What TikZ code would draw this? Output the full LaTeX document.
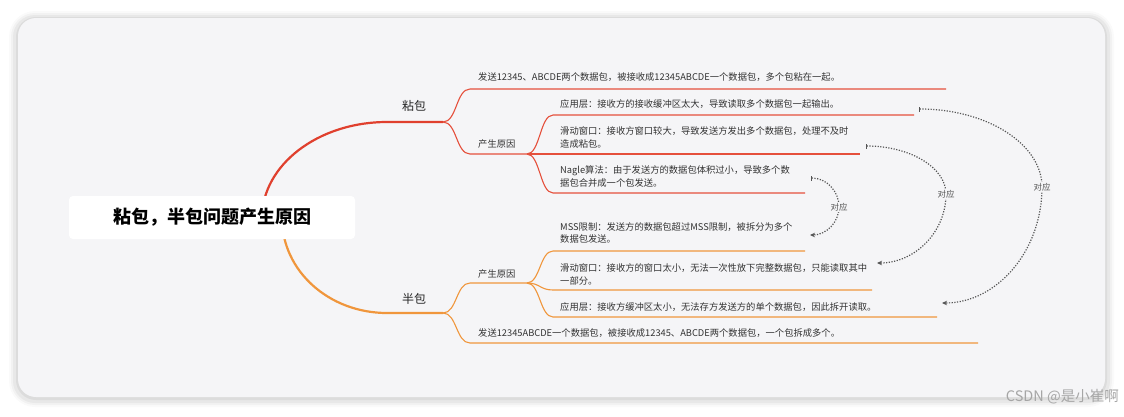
\documentclass[tikz,border=0pt]{standalone}
\usepackage{fontspec}
\setmainfont{Noto Sans CJK SC}
\usetikzlibrary{arrows.meta}
\definecolor{cardbg}{HTML}{F5F5F7}
\definecolor{stk}{HTML}{E5503C}
\definecolor{stkd}{HTML}{E0402E}
\definecolor{hlf}{HTML}{F0963C}
\definecolor{txt}{HTML}{333333}
\definecolor{dotc}{HTML}{555555}
\begin{document}
\begin{tikzpicture}[x=1pt,y=-1pt,
  leaf/.style={anchor=west,inner sep=0pt,text=txt,font=\fontsize{9.3}{12.2}\selectfont,align=left},
  topic/.style={anchor=west,inner sep=0pt,text=black!85,font=\fontsize{12}{14}\selectfont},
  redline/.style={draw=stk,line width=1.1pt},
  orgline/.style={draw=hlf,line width=1.1pt},
  corr/.style={draw=dotc,line width=1.2pt,dash pattern=on 1.2pt off 1.5pt,{Bar[width=5pt,line width=1pt]}-{Stealth[length=5pt,width=4.5pt]}},
  corrlab/.style={fill=cardbg,inner sep=1pt,text=dotc,font=\fontsize{8.5}{10}\selectfont}]
\useasboundingbox (0,0) rectangle (1124,416);
\fill[white] (0,0) rectangle (1124,416);
% shadow
\fill[black,opacity=0.02,rounded corners=26pt] (9,11) rectangle (1114,407);
\fill[black,opacity=0.03,rounded corners=24pt] (11,13) rectangle (1112,405);
\fill[black,opacity=0.04,rounded corners=22pt] (13,15) rectangle (1110,403);
\fill[black,opacity=0.05,rounded corners=20pt] (16,17) rectangle (1107,400);
% card
\fill[cardbg,rounded corners=18pt] (18,18) rectangle (1105,397);

% ---------- coordinates ----------
\coordinate (rs) at (262,218);
\coordinate (hs) at (282,218);
\coordinate (s0) at (387,122);
\coordinate (sB) at (443,122);
\coordinate (s1a) at (470,89);   \coordinate (s1b) at (946,89);
\coordinate (s2a) at (470,154);  \coordinate (s2b) at (527,154);
\coordinate (s21a) at (553,115); \coordinate (s21b) at (914,115);
\coordinate (s22b) at (860,154);
\coordinate (s23a) at (553,193); \coordinate (s23b) at (805,193);
\coordinate (h0) at (387,313);
\coordinate (hB) at (443,313);
\coordinate (h1a) at (470,283);  \coordinate (h1b) at (527,283);
\coordinate (h2a) at (470,343);  \coordinate (h2b) at (978,343);
\coordinate (h11a) at (553,251); \coordinate (h11b) at (805,251);
\coordinate (h12a) at (553,290); \coordinate (h12b) at (872,290);
\coordinate (h13a) at (553,317); \coordinate (h13b) at (937,317);

% ---------- main curves ----------
\draw[stkd,line width=2.2pt] (rs) .. controls (262,165) and (318,122) .. (s0) -- (sB);
\draw[hlf,line width=2.2pt] (hs) .. controls (282,271) and (329,313) .. (h0) -- (hB);

% ---------- sticky branches ----------
\draw[redline] (sB) .. controls (457,122) and (456,89) .. (s1a) -- (s1b);
\draw[redline] (sB) .. controls (457,122) and (456,154) .. (s2a) -- (s2b);
\draw[redline] (s2b) .. controls (540,154) and (540,115) .. (s21a) -- (s21b);
\draw[redline] (s2b) -- (s22b);
\draw[redline] (s2b) .. controls (540,154) and (540,193) .. (s23a) -- (s23b);

% ---------- half branches ----------
\draw[orgline] (hB) .. controls (457,313) and (456,283) .. (h1a) -- (h1b);
\draw[orgline] (hB) .. controls (457,313) and (456,343) .. (h2a) -- (h2b);
\draw[orgline] (h1b) .. controls (540,283) and (540,251) .. (h11a) -- (h11b);
\draw[orgline] (h1b) .. controls (540,283) and (540,290) .. (h12a) -- (h12b);
\draw[orgline] (h1b) .. controls (540,283) and (540,317) .. (h13a) -- (h13b);

% ---------- root ----------
\node[fill=white,rounded corners=4pt,minimum width=286pt,minimum height=43pt,inner sep=0pt,
      font=\fontsize{18}{20}\selectfont\bfseries,text=black] (root) at (212,217.5) {粘包，半包问题产生原因};

% ---------- texts ----------
\node[topic] (stick) at (402,106) {粘包};
\node[topic] (half) at (402,299) {半包};
\node[leaf] (t1) at (478,77) {发送12345、ABCDE两个数据包，被接收成12345ABCDE一个数据包，多个包粘在一起。};
\node[leaf] (c1) at (478,144) {产生原因};
\node[leaf] (a1) at (560,104) {应用层：接收方的接收缓冲区太大，导致读取多个数据包一起输出。};
\node[leaf] (a2) at (560,137.5) {滑动窗口：接收方窗口较大，导致发送方发出多个数据包，处理不及时\\造成粘包。};
\node[leaf] (a3) at (560,176.5) {Nagle算法：由于发送方的数据包体积过小，导致多个数\\据包合并成一个包发送。};
\node[leaf] (c2) at (478,273.5) {产生原因};
\node[leaf] (b1) at (560,233) {MSS限制：发送方的数据包超过MSS限制，被拆分为多个\\数据包发送。};
\node[leaf] (b2) at (560,274.5) {滑动窗口：接收方的窗口太小，无法一次性放下完整数据包，只能读取其中\\一部分。};
\node[leaf] (b3) at (560,307.5) {应用层：接收方缓冲区太小，无法存方发送方的单个数据包，因此拆开读取。};
\node[leaf] (t2) at (478,333) {发送12345ABCDE一个数据包，被接收成12345、ABCDE两个数据包，一个包拆成多个。};

% ---------- correspondence arrows ----------
\coordinate (p1s) at (811,178); \coordinate (p1m) at (839,207); \coordinate (p1e) at (810,235);
\coordinate (p2s) at (866,146); \coordinate (p2m) at (946,194); \coordinate (p2e) at (877,263);
\coordinate (p3s) at (919,109); \coordinate (p3m) at (1042,187); \coordinate (p3e) at (942,303);
\draw[corr] (p1s) .. controls (826.5,178) and (839,191) .. (p1m) .. controls (839,222.5) and (826,235) .. (p1e);
\draw[corr] (p2s) .. controls (910,146) and (946,167.5) .. (p2m) .. controls (946,232) and (915,263) .. (p2e);
\draw[corr] (p3s) .. controls (987,109) and (1042,144) .. (p3m) .. controls (1042,251) and (997,303) .. (p3e);
\node[corrlab] (l1) at (p1m) {对应};
\node[corrlab] (l2) at (p2m) {对应};
\node[corrlab] (l3) at (p3m) {对应};

% ---------- watermark ----------
\node[anchor=east,inner sep=0pt,text=black!35,font=\fontsize{14.5}{16}\selectfont] (wm) at (1119,397) {CSDN @是小崔啊};
\end{tikzpicture}
\end{document}
